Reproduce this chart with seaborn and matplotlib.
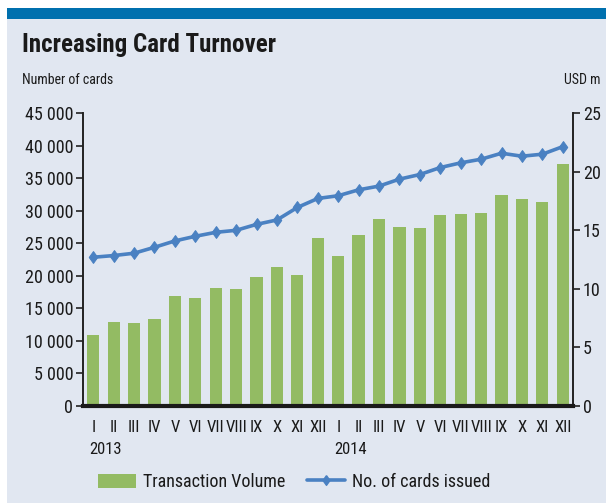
import numpy as np
import pandas as pd
import matplotlib
matplotlib.use("Agg")
import matplotlib.pyplot as plt
from matplotlib.patches import Rectangle, Patch
from matplotlib.lines import Line2D
import matplotlib.transforms as mtransforms
import seaborn as sns

# data
months = ["I", "II", "III", "IV", "V", "VI", "VII", "VIII", "IX", "X", "XI", "XII"] * 2
years = ["2013", "2014"]
cards_issued = [22850, 23110, 23470, 24380, 25360, 26070, 26680, 26990, 27900, 28580, 30500, 31880,
                32300, 33210, 33780, 34850, 35560, 36630, 37350, 37910, 38830, 38370, 38680, 39840]
volume_usd_m = [6.06, 7.17, 7.09, 7.43, 9.40, 9.22, 10.08, 9.99, 11.02, 11.87, 11.19, 14.35,
                12.81, 14.61, 15.97, 15.29, 15.20, 16.31, 16.40, 16.48, 18.02, 17.68, 17.42, 20.67]
left_ticks = [0, 5000, 10000, 15000, 20000, 25000, 30000, 35000, 40000, 45000]
right_ticks = [0, 5, 10, 15, 20, 25]

GREEN = "#93bb63"
BLUE = "#4a81c2"
PANEL = "#e1e7f1"
TOPBAR = "#0070ae"
INK = "#1a1a1a"

sns.set_style("white")
plt.rcParams["font.family"] = ["Roboto Condensed", "Archivo Narrow", "DejaVu Sans"]
plt.rcParams["text.color"] = INK
plt.rcParams["xtick.color"] = INK
plt.rcParams["ytick.color"] = INK

df = pd.DataFrame({"idx": np.arange(len(months)), "cards": cards_issued, "volume": volume_usd_m})

fig = plt.figure(figsize=(6.06, 5.04), dpi=100, facecolor="white")
fig.patches.append(Rectangle((7 / 606, 0.002), 1, 0.9623 - 0.002, transform=fig.transFigure,
                             facecolor=PANEL, edgecolor="none", zorder=-10))
fig.patches.append(Rectangle((7 / 606, 0.9623), 1, 0.0218, transform=fig.transFigure,
                             facecolor=TOPBAR, edgecolor="none", zorder=-10))

ax = fig.add_axes([0.137, 0.1944, 0.8085, 0.5813])
ax2 = ax.twinx()

# bars: transaction volume on the right axis
sns.barplot(data=df, x="idx", y="volume", color=GREEN, width=0.6, saturation=1,
            edgecolor="none", linewidth=0, ax=ax2, zorder=1)
# line: number of cards on the left axis
diamond = [(0, 1), (0.72, 0), (0, -1), (-0.72, 0), (0, 1)]
sns.lineplot(data=df, x="idx", y="cards", color=BLUE, linewidth=2.6, marker=diamond,
             markersize=8.5, markeredgecolor=BLUE, ax=ax)

ax.set_zorder(ax2.get_zorder() + 1)
ax.patch.set_visible(False)
ax2.patch.set_visible(False)

for a in (ax, ax2):
    a.set_xlim(-0.5, len(months) - 0.5)
    a.set_xlabel("")
    a.set_ylabel("")
    a.spines["top"].set_visible(False)

ax.set_ylim(0, 45000)
ax2.set_ylim(0, 25)

ax.set_yticks(left_ticks)
ax.set_yticklabels([f"{v:,}".replace(",", " ") for v in left_ticks], fontsize=13)
ax2.set_yticks(right_ticks)
ax2.set_yticklabels([str(v) for v in right_ticks], fontsize=13)
ax.tick_params(axis="y", direction="out", length=5, width=1.2, color="#222222", pad=2)
ax2.tick_params(axis="y", direction="out", length=5, width=1.2, color="#222222", pad=2)

ax.spines["right"].set_visible(False)
ax.spines["left"].set_color("#222222")
ax.spines["left"].set_linewidth(1.4)
ax.spines["bottom"].set_color(INK)
ax.spines["bottom"].set_linewidth(3)
ax2.spines["left"].set_visible(False)
ax2.spines["bottom"].set_visible(False)
ax2.spines["right"].set_color("#222222")
ax2.spines["right"].set_linewidth(1.4)

ax.set_xticks(np.arange(len(months)))
ax.set_xticklabels(months, fontsize=12)
ax.set_xticks(np.arange(-0.5, len(months)), minor=True)
ax.tick_params(axis="x", which="major", length=0, pad=10)
ax.tick_params(axis="x", which="minor", direction="out", length=5, width=1.2, color="#222222")

trans = mtransforms.blended_transform_factory(ax.transData, fig.transFigure)
for k, yr in enumerate(years):
    ax.text(k * 12 - 0.2, 1 - 449 / 504, yr, transform=trans, ha="left", va="center", fontsize=12)

fig.text(22 / 606, 1 - 45 / 504, "Increasing Card Turnover", fontsize=18, fontweight="bold",
         va="center", ha="left")
fig.text(22 / 606, 1 - 80 / 504, "Number of cards", fontsize=10, va="center", ha="left")
fig.text(600 / 606, 1 - 80 / 504, "USD m", fontsize=10, va="center", ha="right")

handles = [Patch(facecolor=GREEN, edgecolor="none"),
           Line2D([0], [0], color=BLUE, linewidth=2.6, marker=diamond, markersize=7)]
fig.legend(handles, ["Transaction Volume", "No. of cards issued"], loc="center",
           bbox_to_anchor=(294 / 606, 1 - 482 / 504), ncol=2, frameon=False, fontsize=13,
           handlelength=2.1, handleheight=0.8, columnspacing=1.2, handletextpad=0.4)

fig.savefig("out.png", dpi=100, facecolor="white")
